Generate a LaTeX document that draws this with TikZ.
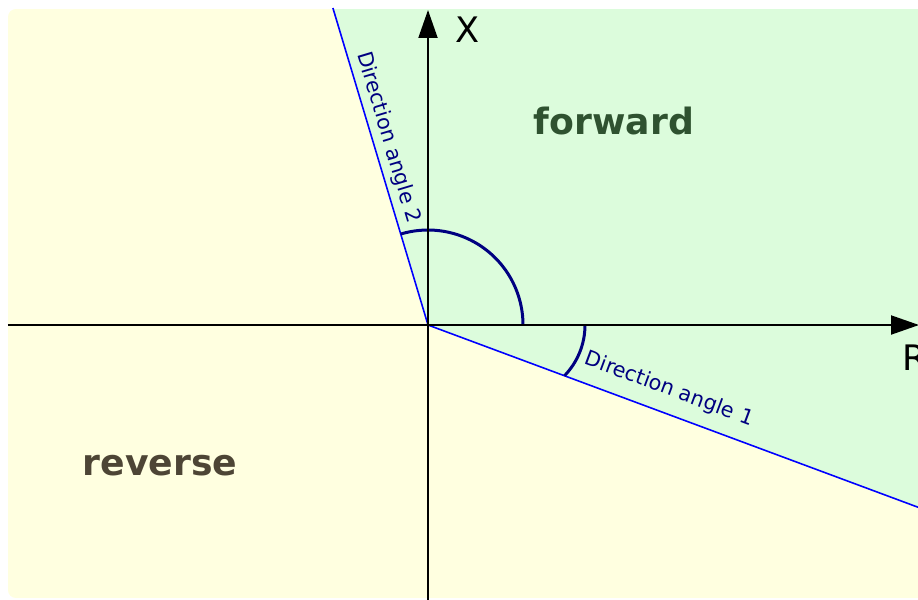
\documentclass[tikz,border=0pt]{standalone}
\usepackage{fontspec}
\setmainfont{DejaVu Sans}
\usetikzlibrary{arrows.meta,calc}
\definecolor{fwdfill}{HTML}{DCFCDC}
\definecolor{revfill}{HTML}{FFFFE0}
\definecolor{fwdink}{HTML}{2F5230}
\definecolor{revink}{HTML}{4D4535}
\definecolor{arcink}{HTML}{000080}

\begin{document}
\begin{tikzpicture}[x=0.02cm,y=0.02cm,font=\fontsize{20}{24}\selectfont,
    axis/.style={black,line width=1.1pt,-{Triangle[length=0.56cm,width=0.38cm]}},
    dirline/.style={blue,line width=0.9pt},
    anglearc/.style={arcink,line width=1.7pt},
    dirlabel/.style={text=arcink,anchor=base,inner sep=0pt,font=\fontsize{11.8}{14}\selectfont},
    region/.style={font=\fontsize{20.6}{24}\selectfont\bfseries}]
        \useasboundingbox (-428,-274) rectangle (490,325);

        \coordinate (O) at (0,0);
        \coordinate (d1) at (-20.4:560);
        \coordinate (d2) at (106.7:331);
        \coordinate (xtop) at (0,315);
        \coordinate (xbot) at (0,-285);
        \coordinate (rleft) at (-420,0);
        \coordinate (rtip) at (491,0);

        % two regions
        \begin{scope}
          \clip[rounded corners=4.5pt] (-420,-273) rectangle (520,316);
          \fill[revfill] (-420,-273) rectangle (520,316);
          \fill[fwdfill] (O) -- (-20.4:700) -- (656,400) -- (106.7:500) -- cycle;
        \end{scope}

        \node[region,text=fwdink] (fwd) at (186,204) {forward};
        \node[region,text=revink] (rev) at (-268,-141) {reverse};

        % boundary directions
        \draw[dirline] (O) -- (d1);
        \draw[dirline] (O) -- (d2);
        \draw[anglearc] ($(O)+(157,0)$) arc[start angle=0,end angle=-44,radius=73];
        \draw[anglearc] ($(O)+(95,0)$) arc[start angle=0,end angle=106.7,radius=95];
        \node[dirlabel,rotate=-20.4] (lab1) at ($(O)+(-20.4:248.5)+(69.6:18)$) {Direction angle 1};
        \node[dirlabel,rotate=-73.3] (lab2) at ($(O)+(106.7:191)+(16.7:10)$) {Direction angle 2};

        % axes
        \draw[axis] (rleft) -- (rtip);
        \draw[axis] (xbot) -- (xtop);
        \node (xlab) at (40,295) {X};
        \node[anchor=west,inner sep=0pt] (rlab) at (474,-33) {R};
      \end{tikzpicture}
\end{document}
